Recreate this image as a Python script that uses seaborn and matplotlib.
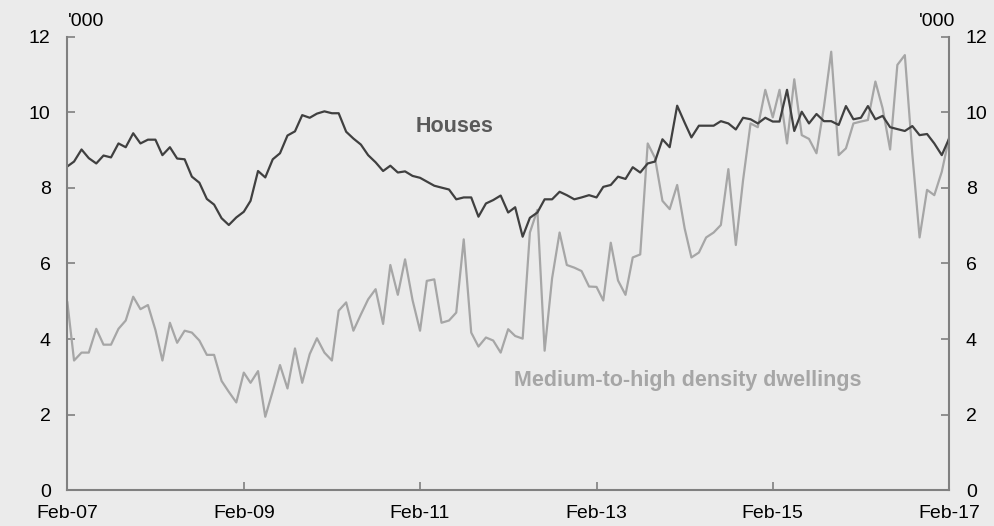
import numpy as np
import pandas as pd
import matplotlib.pyplot as plt
import matplotlib.dates as mdates
import seaborn as sns

# monthly dwelling approvals, '000, Feb-07 .. Feb-17
months = pd.date_range("2007-02-01", "2017-02-01", freq="MS")
houses = [8.57, 8.70, 9.02, 8.79, 8.65, 8.86, 8.81, 9.18, 9.08, 9.45,
          9.18, 9.28, 9.28, 8.87, 9.08, 8.78, 8.76, 8.30, 8.14, 7.71,
          7.56, 7.20, 7.02, 7.22, 7.37, 7.66, 8.45, 8.28, 8.76, 8.92,
          9.39, 9.50, 9.93, 9.86, 9.97, 10.03, 9.98, 9.98, 9.49, 9.31,
          9.15, 8.87, 8.68, 8.45, 8.59, 8.41, 8.44, 8.32, 8.27, 8.17,
          8.06, 8.01, 7.96, 7.70, 7.75, 7.75, 7.24, 7.59, 7.68, 7.80,
          7.35, 7.49, 6.71, 7.21, 7.35, 7.70, 7.70, 7.90, 7.81, 7.70,
          7.75, 7.81, 7.75, 8.03, 8.08, 8.30, 8.24, 8.55, 8.41, 8.65,
          8.70, 9.29, 9.08, 10.18, 9.73, 9.34, 9.65, 9.65, 9.65, 9.77,
          9.71, 9.55, 9.86, 9.82, 9.71, 9.86, 9.76, 9.76, 10.60, 9.51,
          10.02, 9.71, 9.96, 9.77, 9.77, 9.67, 10.17, 9.82, 9.86, 10.17,
          9.82, 9.91, 9.61, 9.56, 9.51, 9.64, 9.40, 9.43, 9.18, 8.87,
          9.32]
medium_high = [4.99, 3.43, 3.64, 3.64, 4.27, 3.85, 3.85, 4.27, 4.49, 5.12,
               4.79, 4.90, 4.24, 3.43, 4.43, 3.90, 4.22, 4.17, 3.96, 3.58,
               3.58, 2.89, 2.60, 2.32, 3.11, 2.84, 3.15, 1.94, 2.62, 3.31,
               2.69, 3.75, 2.84, 3.60, 4.02, 3.64, 3.43, 4.75, 4.97, 4.22,
               4.65, 5.05, 5.32, 4.40, 5.96, 5.17, 6.11, 5.03, 4.22, 5.54,
               5.58, 4.43, 4.49, 4.70, 6.64, 4.17, 3.80, 4.04, 3.96, 3.64,
               4.26, 4.08, 4.01, 6.82, 7.42, 3.69, 5.61, 6.82, 5.96, 5.89,
               5.80, 5.39, 5.38, 5.02, 6.55, 5.55, 5.17, 6.16, 6.24, 9.18,
               8.80, 7.66, 7.44, 8.08, 6.93, 6.16, 6.29, 6.69, 6.82, 7.02,
               8.50, 6.49, 8.21, 9.71, 9.61, 10.60, 9.87, 10.60, 9.18, 10.88,
               9.40, 9.30, 8.92, 10.15, 11.61, 8.87, 9.05, 9.71, 9.76, 9.80,
               10.82, 10.11, 9.02, 11.26, 11.52, 8.90, 6.69, 7.95, 7.81, 8.43,
               9.36]
xtick_dates = pd.to_datetime(["2007-02-01", "2009-02-01", "2011-02-01",
                              "2013-02-01", "2015-02-01", "2017-02-01"])
yticks = [0, 2, 4, 6, 8, 10, 12]

df = pd.DataFrame({"month": months, "houses": houses, "medium": medium_high})

bg = "#ebebeb"
axis_grey = "#808080"
sns.set_style("white", {"axes.facecolor": bg, "figure.facecolor": bg,
                        "text.color": "black", "xtick.color": "black",
                        "ytick.color": "black"})
plt.rcParams["font.family"] = ["Liberation Sans", "DejaVu Sans"]

fig, ax = plt.subplots(figsize=(9.94, 5.26), dpi=100)
fig.subplots_adjust(left=0.0677, right=0.955, bottom=0.0684, top=0.9297)

sns.lineplot(data=df, x="month", y="medium", color="#a6a6a6", lw=1.6, ax=ax)
sns.lineplot(data=df, x="month", y="houses", color="#404040", lw=1.6, ax=ax)

ax.set_xlim(months[0], months[-1])
ax.set_ylim(0, 12)
ax.set_xticks(xtick_dates)
ax.xaxis.set_major_formatter(mdates.DateFormatter("%b-%y"))
ax.set_yticks(yticks)
ax.set_xlabel("")
ax.set_ylabel("")

for side in ["left", "right", "bottom"]:
    ax.spines[side].set_visible(True)
    ax.spines[side].set_color(axis_grey)
    ax.spines[side].set_linewidth(1.5)
ax.spines["top"].set_visible(False)

ax.tick_params(axis="y", direction="in", length=6, width=1.2, color=axis_grey,
               labelcolor="black", left=True, right=True, labelleft=True,
               labelright=True, labelsize=14, pad=12)
ax.tick_params(axis="x", direction="in", length=6, width=1.2, color=axis_grey,
               labelcolor="black", bottom=True, labelsize=14, pad=11)

ax.text(0.4396, 0.8035, "Houses", transform=ax.transAxes, ha="center",
        va="center", fontsize=15.5, fontweight="bold", color="#5a5a5a")
ax.text(0.7034, 0.2428, "Medium-to-high density dwellings",
        transform=ax.transAxes, ha="center", va="center", fontsize=15.5,
        fontweight="bold", color="#a6a6a6")

fig.text(0.0684, 0.959, "'000", ha="left", va="center", fontsize=14,
         color="black")
fig.text(0.9608, 0.959, "'000", ha="right", va="center", fontsize=14,
         color="black")

fig.savefig("out.png", dpi=100, facecolor=bg)
